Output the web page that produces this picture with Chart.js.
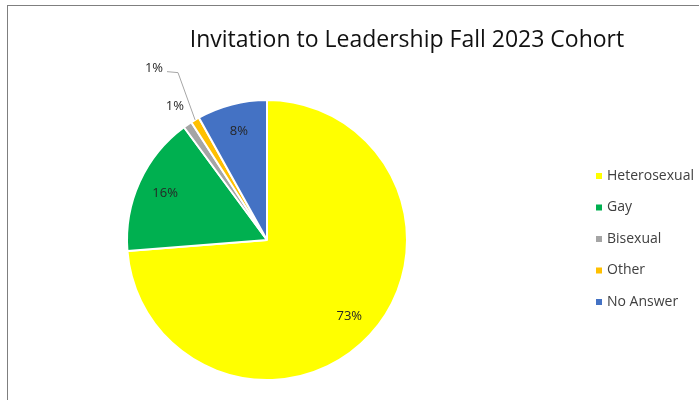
<!DOCTYPE html>
<html>
<head>
<meta charset="utf-8">
<script src="https://cdn.jsdelivr.net/npm/chart.js@4.4.0/dist/chart.umd.min.js"></script>
<style>
  body { margin: 0; background: #fff; }
  #frame { position: absolute; left: 7px; top: 5px; width: 720px; height: 420px;
           border-left: 1px solid #7f7f7f; border-top: 1px solid #7f7f7f; }
  #wrap { position: absolute; left: 0; top: 0; width: 699px; height: 400px; }
</style>
</head>
<body>
<div id="frame"></div>
<div id="wrap"><canvas id="pieChart"></canvas></div>
<script>
// Datos del gráfico
const categorias = ['Heterosexual', 'Gay', 'Bisexual', 'Other', 'No Answer'];
const valores = [73, 16, 1, 1, 8];
const etiquetas = ['73%', '16%', '1%', '1%', '8%'];
const colores = ['#FFFF00', '#00B050', '#A5A5A5', '#FFC000', '#4472C4'];
const titulo = 'Invitation to Leadership Fall 2023 Cohort';

// Plugin para título, etiquetas y leyenda
const extrasPlugin = {
    id: 'extras',
    afterDatasetsDraw(chart) {
        const ctx = chart.ctx;
        const meta = chart.getDatasetMeta(0);
        ctx.save();

        // título
        ctx.fillStyle = '#111111';
        ctx.font = '500 23px "Open Sans", sans-serif';
        ctx.textAlign = 'center';
        ctx.textBaseline = 'middle';
        ctx.fillText(titulo, 407, 40);

        // etiquetas de porcentaje
        ctx.font = '13px "Open Sans", sans-serif';
        ctx.fillStyle = '#262626';
        let pequenos = 0;
        meta.data.forEach((arc, i) => {
            const mid = (arc.startAngle + arc.endAngle) / 2;
            const r = arc.outerRadius;
            const cos = Math.cos(mid), sin = Math.sin(mid);
            if (valores[i] >= 3) {
                ctx.textAlign = 'center';
                ctx.fillText(etiquetas[i], arc.x + cos * r * 0.8, arc.y + sin * r * 0.8);
            } else {
                const f = 1.16 + 0.3 * pequenos;
                let lx = arc.x + cos * r * f;
                let ly = arc.y + sin * r * f;
                if (pequenos > 0) { lx -= 8; ly += 4; }
                ctx.textAlign = 'center';
                ctx.fillText(etiquetas[i], lx, ly);
                if (pequenos > 0) {
                    ctx.strokeStyle = '#a6a6a6';
                    ctx.lineWidth = 1;
                    ctx.beginPath();
                    ctx.moveTo(lx + 13, ly + 3);
                    ctx.lineTo(lx + 24, ly + 4);
                    ctx.lineTo(arc.x + cos * r, arc.y + sin * r);
                    ctx.stroke();
                }
                pequenos++;
            }
        });

        // leyenda
        ctx.font = '14px "Open Sans", sans-serif';
        ctx.textAlign = 'left';
        categorias.forEach((cat, i) => {
            const y = 176 + i * 31.5;
            ctx.fillStyle = colores[i];
            ctx.fillRect(596, y - 3, 6, 6);
            ctx.fillStyle = '#404040';
            ctx.fillText(cat, 607, y);
        });
        ctx.restore();
    }
};

new Chart(document.getElementById('pieChart'), {
    type: 'pie',
    data: {
        labels: categorias,
        datasets: [{
            data: valores,
            backgroundColor: colores,
            borderColor: '#ffffff',
            borderWidth: 2
        }]
    },
    options: {
        responsive: true,
        maintainAspectRatio: false,
        animation: false,
        layout: {
            padding: { left: 126, right: 291, top: 99, bottom: 19 }
        },
        plugins: {
            legend: { display: false },
            title: { display: false },
            tooltip: { enabled: false }
        }
    },
    plugins: [extrasPlugin]
});
</script>
</body>
</html>
